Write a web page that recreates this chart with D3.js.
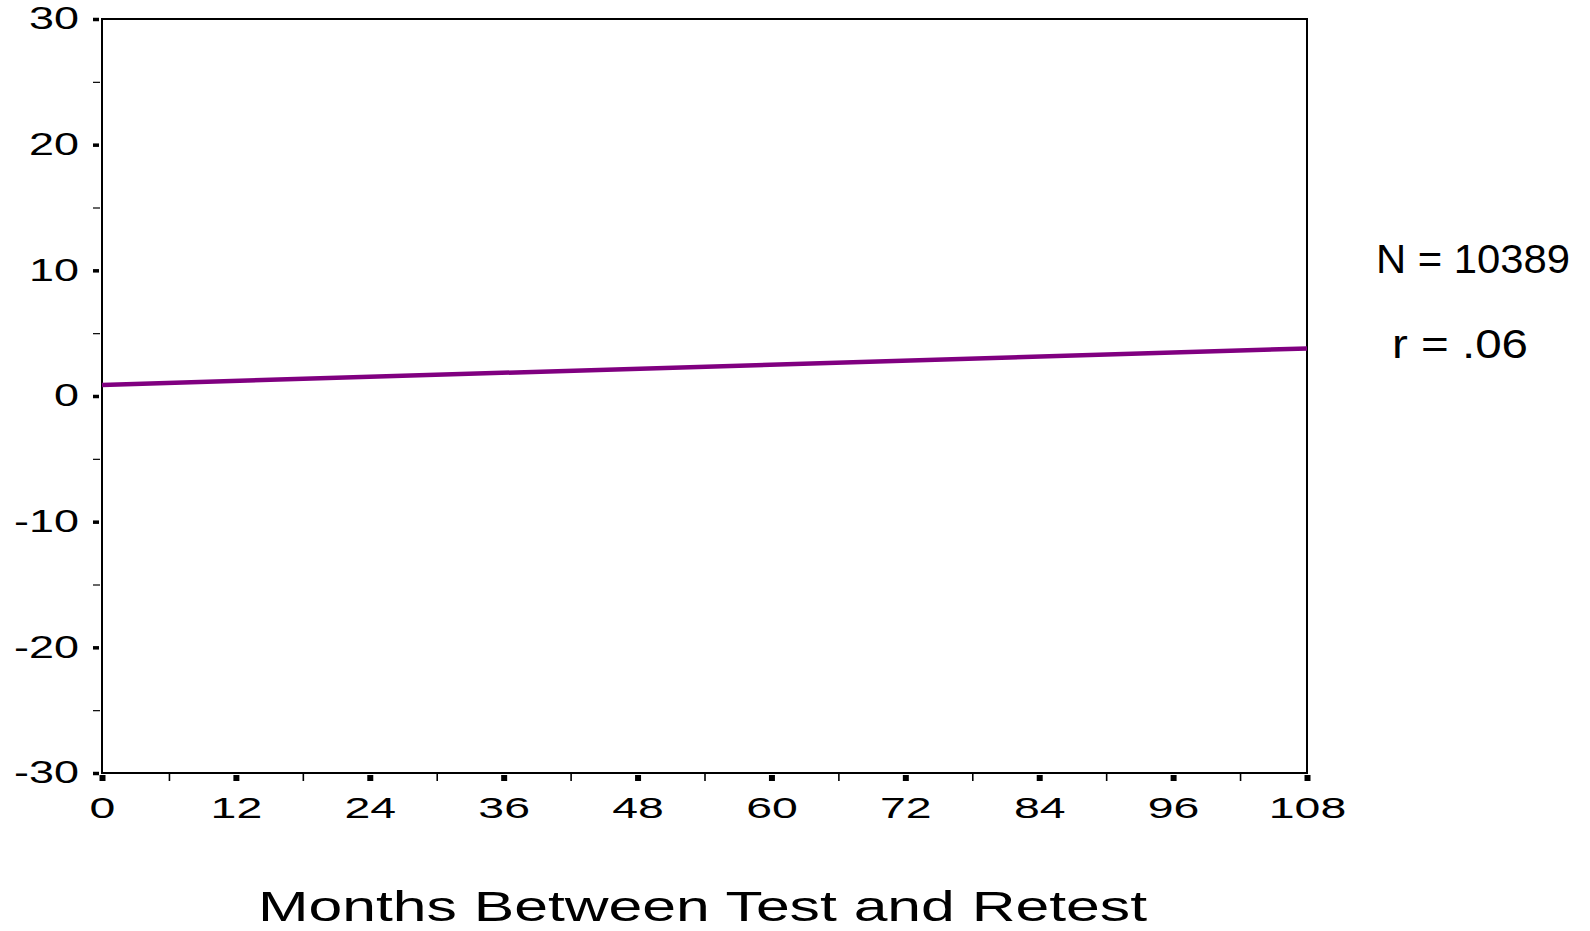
<!DOCTYPE html>
<html>
<head>
<meta charset="utf-8">
<script src="https://cdn.jsdelivr.net/npm/d3@7"></script>
<style>
  html, body { margin: 0; padding: 0; background: #fff; }
  svg { display: block; }
  text { font-family: "Liberation Sans", Arial, sans-serif; fill: #000; }
</style>
</head>
<body>
<svg id="chart" width="1590" height="931"></svg>
<script>
// Axis ranges and ticks
const xDomain = [0, 108];
const yDomain = [-30, 30];
const xMajorTicks = [0, 12, 24, 36, 48, 60, 72, 84, 96, 108];
const xMinorTicks = [6, 18, 30, 42, 54, 66, 78, 90, 102];
const yMajorTicks = [-30, -20, -10, 0, 10, 20, 30];
const yMinorTicks = [-25, -15, -5, 5, 15, 25];

// Fitted regression line (months -> change)
const fitMonths = [0, 108];
const fitValues = [0.88, 3.78];

// Summary statistics
const statLabels = ["N = 10389", "r = .06"];
const xTitle = "Months Between Test and Retest";

const svg = d3.select("#chart");
const plot = { left: 102, right: 1307, top: 19, bottom: 773 };

const x = d3.scaleLinear().domain(xDomain).range([plot.left, plot.right]);
const y = d3.scaleLinear().domain(yDomain).range([plot.bottom, plot.top]);

const plainNumber = d => String(d);

// Y axis: major ticks as short heavy marks, minor ticks as thin marks
const yMinor = svg.append("g").attr("transform", `translate(${plot.left - 2},0)`)
  .call(d3.axisLeft(y).tickValues(yMinorTicks).tickSize(7).tickFormat(""));
yMinor.select(".domain").remove();
yMinor.selectAll(".tick line").attr("stroke", "#000").attr("stroke-width", 1.2);

const yMajor = svg.append("g").attr("transform", `translate(${plot.left - 3},0)`)
  .call(d3.axisLeft(y).tickValues(yMajorTicks).tickSize(6).tickPadding(14).tickFormat(plainNumber));
yMajor.select(".domain").remove();
yMajor.selectAll(".tick line").attr("stroke", "#000").attr("stroke-width", 3.5);
yMajor.selectAll(".tick text")
  .attr("font-size", 31)
  .attr("font-family", "Liberation Sans, Arial, sans-serif")
  .each(function () {
    const t = d3.select(this);
    const tx = +t.attr("x");
    t.attr("x", 0).attr("transform", `translate(${tx},0) scale(1.45,1)`);
  });

// X axis
const xMinor = svg.append("g").attr("transform", `translate(0,${plot.bottom + 1})`)
  .call(d3.axisBottom(x).tickValues(xMinorTicks).tickSize(7).tickFormat(""));
xMinor.select(".domain").remove();
xMinor.selectAll(".tick line").attr("stroke", "#000").attr("stroke-width", 1.6);

const xMajor = svg.append("g").attr("transform", `translate(0,${plot.bottom + 2})`)
  .call(d3.axisBottom(x).tickValues(xMajorTicks).tickSize(6).tickPadding(16).tickFormat(plainNumber));
xMajor.select(".domain").remove();
xMajor.selectAll(".tick line").attr("stroke", "#000").attr("stroke-width", 6);
xMajor.selectAll(".tick text")
  .attr("font-size", 29)
  .attr("font-family", "Liberation Sans, Arial, sans-serif")
  .each(function () {
    const t = d3.select(this);
    const ty = +t.attr("y");
    t.attr("y", 0).attr("transform", `translate(0,${ty}) scale(1.6,1)`);
  });

// Plot frame
svg.append("rect")
  .attr("x", plot.left).attr("y", plot.top)
  .attr("width", plot.right - plot.left).attr("height", plot.bottom - plot.top)
  .attr("fill", "none").attr("stroke", "#000").attr("stroke-width", 2);

// Regression line
const line = d3.line().x((d, i) => x(fitMonths[i])).y(d => y(d));
svg.append("path")
  .datum(fitValues)
  .attr("d", line)
  .attr("fill", "none")
  .attr("stroke", "#800080")
  .attr("stroke-width", 4.5);

// Statistics annotation
svg.append("text")
  .attr("x", 1376).attr("y", 273)
  .attr("font-size", 40)
  .attr("textLength", 194)
  .attr("lengthAdjust", "spacingAndGlyphs")
  .text(statLabels[0]);
svg.append("text")
  .attr("x", 1392).attr("y", 358)
  .attr("font-size", 40)
  .attr("textLength", 136)
  .attr("lengthAdjust", "spacingAndGlyphs")
  .text(statLabels[1]);

// X axis title
svg.append("text")
  .attr("x", 258).attr("y", 921)
  .attr("font-size", 42)
  .attr("textLength", 889)
  .attr("lengthAdjust", "spacingAndGlyphs")
  .text(xTitle);
</script>
</body>
</html>
